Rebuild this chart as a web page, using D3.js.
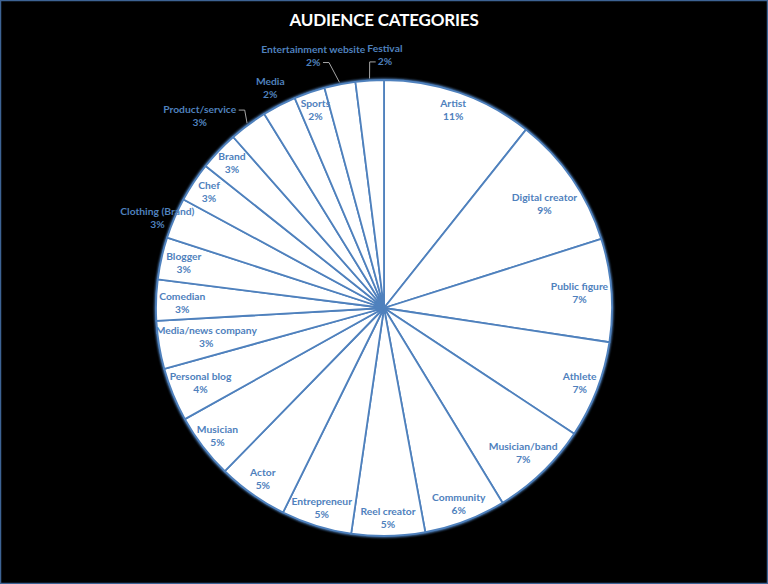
<!DOCTYPE html>
<html>
<head>
<meta charset="utf-8">
<script src="https://cdn.jsdelivr.net/npm/d3@7"></script>
<style>
  html, body { margin: 0; padding: 0; background: #000; }
  svg { display: block; }
</style>
</head>
<body>
<div id="chart"></div>
<script>
// Pie chart - audience categories

const categories = [
    "Artist", "Digital creator", "Public figure", "Athlete", "Musician/band",
    "Community", "Reel creator", "Entrepreneur", "Actor", "Musician",
    "Personal blog", "Media/news company", "Comedian", "Blogger", "Clothing (Brand)",
    "Chef", "Brand", "Product/service", "Media", "Sports",
    "Entertainment website", "Festival"
];
const shares = [
    10.7, 9.4, 7.3, 6.9, 7.0,
    5.8, 5.2, 5.0, 5.0, 4.6,
    3.8, 3.4, 2.9, 3.0, 2.9,
    2.8, 2.8, 2.7, 2.4, 2.2,
    2.2, 2.0
];

const width = 768;
const height = 584;
const cx = 384, cy = 308, radius = 228;
const blue = "#4f81bd";

// label radius (fraction of radius) and angle shift (deg) where the default does not fit
const labelRadius = {
    "Digital creator": [0.84, 1.5], "Public figure": [0.86, 0], "Musician/band": [0.88, 0],
    "Personal blog": [0.87, 0], "Media/news company": [0.79, 0],
    "Comedian": [0.885, -0.5], "Blogger": [0.9, 0],
    "Clothing (Brand)": [1.07, -1.5], "Media": [1.085, 0]
};
// labels pushed outside with a leader line: [radius fraction, angle shift in degrees]
const outsideLabels = {
    "Product/service": [1.167, -7.3],
    "Entertainment website": [1.15, -4.5],
    "Festival": [1.11, 3.8]
};

const data = categories.map((c, i) => ({name: c, value: shares[i]}));
const total = d3.sum(shares);

const svg = d3.select("#chart")
    .append("svg")
    .attr("width", width)
    .attr("height", height)
    .style("background", "#000");

svg.append("rect")
    .attr("x", 0.5).attr("y", 0.5)
    .attr("width", width - 1).attr("height", height - 1)
    .attr("fill", "#000")
    .attr("stroke", "#3d6394")
    .attr("stroke-width", 1.5);

const defs = svg.append("defs");
defs.append("filter")
    .attr("id", "glow")
    .attr("x", "-10%").attr("y", "-10%").attr("width", "120%").attr("height", "120%")
    .append("feGaussianBlur")
    .attr("stdDeviation", 1.2);

svg.append("text")
    .attr("x", width / 2)
    .attr("y", 26)
    .attr("text-anchor", "middle")
    .attr("fill", "#fff")
    .style("font-family", "Lato, 'Open Sans', sans-serif")
    .style("font-weight", "bold")
    .style("font-size", "17px")
    .style("letter-spacing", "-0.2px")
    .text("AUDIENCE CATEGORIES");

const g = svg.append("g")
    .attr("transform", `translate(${cx}, ${cy})`);

const pie = d3.pie()
    .sort(null)
    .value(d => d.value);

const arcs = pie(data);

const arc = d3.arc()
    .innerRadius(0)
    .outerRadius(radius);

// soft blue rim
g.append("circle")
    .attr("r", radius)
    .attr("fill", "none")
    .attr("stroke", blue)
    .attr("stroke-width", 3)
    .attr("filter", "url(#glow)");

g.selectAll("path.slice")
    .data(arcs)
    .join("path")
    .attr("class", "slice")
    .attr("d", arc)
    .attr("fill", "#fff")
    .attr("stroke", blue)
    .attr("stroke-width", 1.8)
    .attr("stroke-linejoin", "round");

const fmt = d3.format(".0%");
const pos = (angle, r) => [r * Math.sin(angle), -r * Math.cos(angle)];
const rad = deg => deg * Math.PI / 180;

const labels = g.selectAll("text.label")
    .data(arcs)
    .join("text")
    .attr("class", "label")
    .attr("text-anchor", "middle")
    .attr("fill", blue)
    .style("font-family", "Lato, 'Open Sans', sans-serif")
    .style("font-weight", "bold")
    .style("font-size", "10.3px")
    .each(function(d) {
        const mid = (d.startAngle + d.endAngle) / 2;
        const [f, shift] = outsideLabels[d.data.name] || labelRadius[d.data.name] || [0.92, 0];
        const p = pos(mid + rad(shift), f * radius);
        const t = d3.select(this);
        t.append("tspan").attr("x", p[0]).attr("y", p[1] - 3).text(d.data.name);
        t.append("tspan").attr("x", p[0]).attr("y", p[1] + 10).text(fmt(d.data.value / total));
    });

// leader lines for outside labels
labels.filter(d => outsideLabels[d.data.name]).each(function(d) {
    const mid = (d.startAngle + d.endAngle) / 2;
    const rim = pos(mid, radius + 2);
    let best = null;
    d3.select(this).selectAll("tspan").each(function() {
        const b = this.getBBox();
        const ym = b.y + b.height / 2 + 1;
        [[b.x - 2, ym, -1], [b.x + b.width + 2, ym, 1]].forEach(([x, y, dir]) => {
            const dist = Math.hypot(x - rim[0], y - rim[1]);
            if (!best || dist < best.dist) best = {x, y, dir, dist};
        });
    });
    const elbowX = best.x + best.dir * 6;
    g.append("path")
        .attr("d", `M${best.x},${best.y}L${elbowX},${best.y}L${rim[0]},${rim[1]}`)
        .attr("fill", "none")
        .attr("stroke", "#a6a6a6")
        .attr("stroke-width", 1);
});
</script>
</body>
</html>
